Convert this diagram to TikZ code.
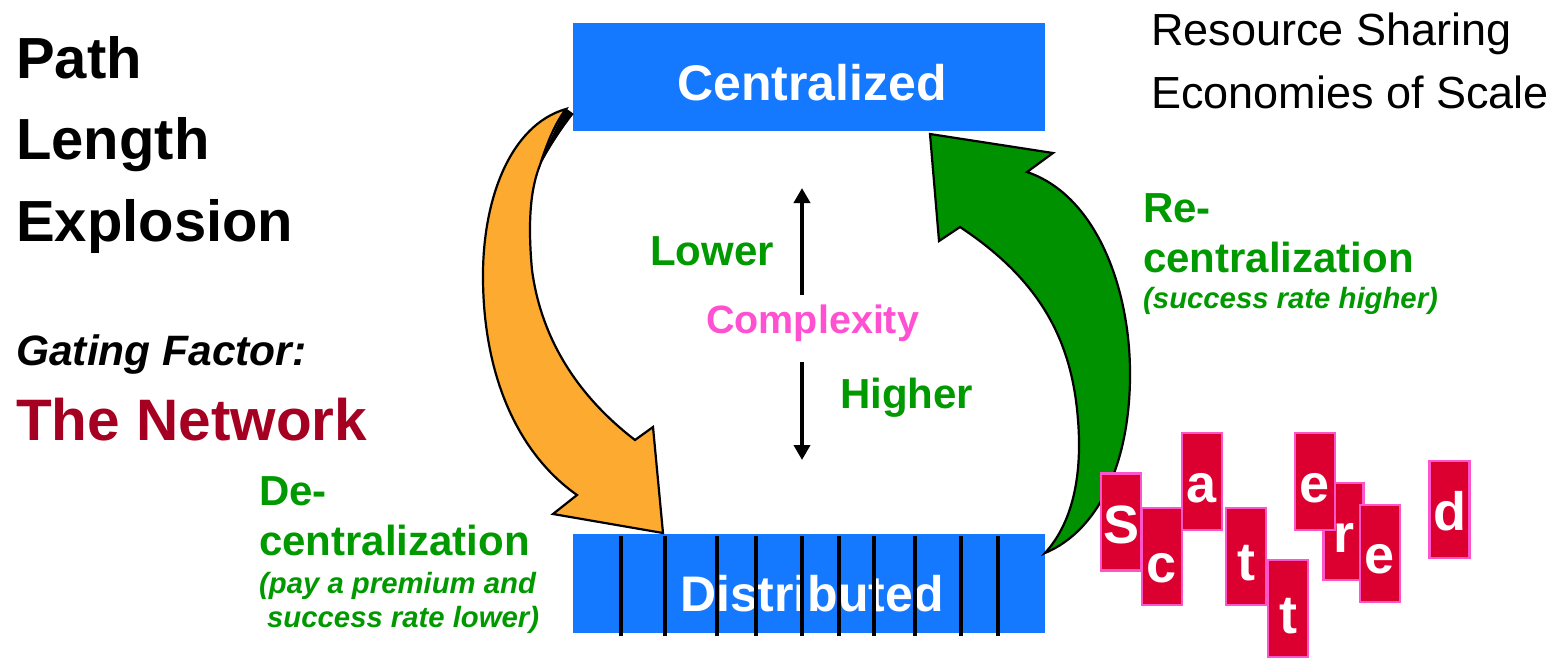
\documentclass[tikz,border=0pt]{standalone}
\usepackage{fontspec}
\setmainfont{Liberation Sans}
\usetikzlibrary{arrows.meta}
\definecolor{cblue}{RGB}{20,121,255}
\definecolor{cgreen}{RGB}{0,153,0}
\definecolor{agreen}{RGB}{0,145,0}
\definecolor{corange}{RGB}{252,170,48}
\definecolor{cred}{RGB}{165,0,33}
\definecolor{cpink}{RGB}{255,80,210}
\definecolor{lred}{RGB}{220,0,48}
\definecolor{lborder}{RGB}{255,85,204}
\begin{document}
\begin{tikzpicture}[x=1pt,y=-1pt,
  txt/.style={inner sep=0pt, anchor=base west},
  bigb/.style={font=\bfseries\fontsize{58}{62}\selectfont},
  midb/.style={font=\bfseries\fontsize{42}{50}\selectfont},
  smallbi/.style={font=\bfseries\itshape\fontsize{29.3}{34}\selectfont},
  bluebox/.style={fill=cblue, draw=none, inner sep=0pt, minimum width=472pt},
  boxtext/.style={inner sep=0pt, anchor=base, text=white, font=\bfseries\fontsize{50}{60}\selectfont},
  tick/.style={line width=4pt, black},
  letterbox/.style={fill=lred, draw=lborder, line width=2.5pt, minimum width=40pt, minimum height=97pt, inner sep=0pt},
  lettertext/.style={inner sep=0pt, anchor=base, text=white, font=\bfseries\fontsize{54}{60}\selectfont},
  bigarrow/.style={draw=black, line width=2.2pt, line join=miter},
  cplx/.style={line width=4.5pt, -{Triangle[width=16pt,length=15pt]}}
]
\useasboundingbox (0,0) rectangle (1556,657);

% left texts
\node[txt, bigb] (path) at (16,78) {Path};
\node[txt, bigb] (length) at (16,159) {Length};
\node[txt, bigb] (explosion) at (16,241) {Explosion};
\node[txt, font=\bfseries\itshape\fontsize{42.5}{50}\selectfont] (gating) at (16,365) {Gating Factor:};
\node[txt, text=cred, font=\bfseries\fontsize{58.5}{66}\selectfont] (network) at (16,440) {The Network};

% top right
\node[txt, font=\fontsize{45}{50}\selectfont] (resource) at (1151,45) {Resource Sharing};
\node[txt, font=\fontsize{45}{50}\selectfont] (economies) at (1151,108) {Economies of Scale};

% boxes
\node[bluebox, minimum height=108pt] (cen) at (809,77) {};
\node[boxtext] (centext) at (812,100) {Centralized};
\node[bluebox, minimum height=99pt] (dist) at (809,583.5) {};
\node[boxtext] (disttext) at (812,611) {Distributed};
\foreach \x in {621,665,717,756,802,839,874,915,961,998}
  \draw[tick] (\x,536) -- (\x,636);

% orange arrow (decentralization)
\path[bigarrow, fill=corange] (566,109)
  .. controls (510,125) and (482,200) .. (483,280)
  .. controls (484,380) and (520,455) .. (577,495)
  -- (553,514) -- (663,533) -- (653,427) -- (635,440)
  .. controls (570,390) and (540,330) .. (532,270)
  .. controls (527,215) and (532,185) .. (540,165)
  .. controls (548,140) and (556,122) .. (566,109) -- cycle;
\path[fill=black, draw=black, line width=1pt] (540,165)
  .. controls (550,140) and (558,124) .. (566,109) -- (573,114)
  .. controls (562,128) and (550,146) .. (540,165) -- cycle;

% green arrow (recentralization)
\path[bigarrow, fill=agreen] (930,134) -- (1053,153) -- (1027,172)
  .. controls (1095,195) and (1129,285) .. (1130,370)
  .. controls (1131,460) and (1100,530) .. (1045,553)
  .. controls (1075,520) and (1082,470) .. (1078,420)
  .. controls (1072,340) and (1040,280) .. (960,227)
  -- (939,241) -- cycle;

% complexity
\coordinate (upS) at (802,295);
\coordinate (upE) at (802,188);
\coordinate (dnS) at (802,362);
\coordinate (dnE) at (802,460);
\draw[cplx] (upS) -- (upE);
\draw[cplx] (dnS) -- (dnE);
\node[txt, midb, text=cgreen] (lower) at (650,265) {Lower};
\node[txt, text=cpink, font=\bfseries\fontsize{39.5}{46}\selectfont] (complexity) at (706,333) {Complexity};
\node[txt, midb, text=cgreen] (higher) at (840,408) {Higher};

% recentralization label
\node[txt, midb, text=cgreen] (re1) at (1143,222) {Re-};
\node[txt, midb, text=cgreen] (re2) at (1143,272) {centralization};
\node[txt, smallbi, text=cgreen] (re3) at (1143,308) {(success rate higher)};

% decentralization label
\node[txt, midb, text=cgreen] (de1) at (259,505) {De-};
\node[txt, midb, text=cgreen] (de2) at (259,555) {centralization};
\node[txt, smallbi, text=cgreen] (de3) at (259,593) {(pay a premium and};
\node[txt, smallbi, text=cgreen] (de4) at (267,627) {success rate lower)};

% scattered
\foreach \n/\x/\y/\b/\l in {s/1121/522/543/S, c/1162/556.5/582/c, a/1202/481.5/502/a,
  t1/1246/556.5/580/t, t2/1288/608.5/633/t, r/1343.5/531.5/552/r,
  e1/1315/481.5/502/e, e2/1380/553.5/573/e, d/1449.5/509.5/530/d} {
  \node[letterbox] (box\n) at (\x,\y) {};
  \node[lettertext] (let\n) at (\x,\b) {\l};
}
\end{tikzpicture}
\end{document}
